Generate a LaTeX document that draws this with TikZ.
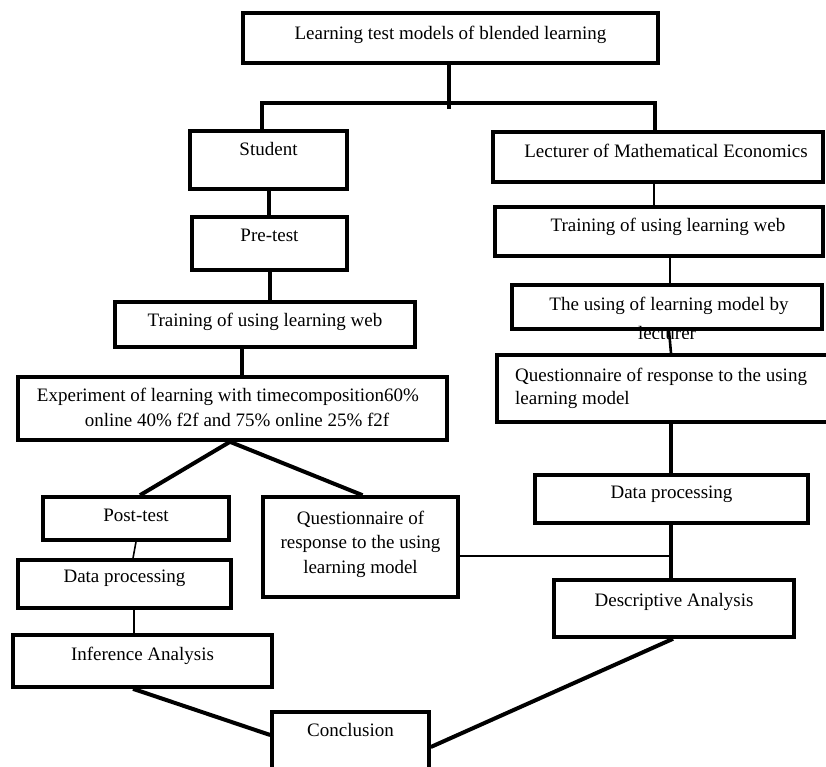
\documentclass[tikz,border=0pt]{standalone}
\usepackage{fontspec}
\setmainfont{Liberation Serif}
\begin{document}
\begin{tikzpicture}[x=1pt,y=-1pt,
  box/.style={draw=black, line width=3.6pt, rectangle, inner sep=0pt, fill=white},
  txt/.style={inner sep=0pt, font=\fontsize{19}{24.5}\selectfont, text height=12pt, text depth=3pt},
  thick4/.style={line width=4pt},
  thin2/.style={line width=1.6pt},
  mid3/.style={line width=2.6pt}]
\clip (0,0) rectangle (826,767);
\fill[white] (0,0) rectangle (826,767);

% ---- boxes ----
\node[box, minimum width=415pt, minimum height=50pt] (top) at (450.5,38) {};
\node[box, minimum width=157pt, minimum height=58pt] (stu) at (268.5,160) {};
\node[box, minimum width=155pt, minimum height=53pt] (pre) at (269.5,243.5) {};
\node[box, minimum width=300pt, minimum height=45pt] (trl) at (265,324.5) {};
\node[box, minimum width=429pt, minimum height=63pt] (exp) at (232.5,408.5) {};
\node[box, minimum width=186pt, minimum height=43pt] (post) at (136,518.5) {};
\node[box, minimum width=213pt, minimum height=48pt] (dpl) at (124.5,584) {};
\node[box, minimum width=259pt, minimum height=52pt] (inf) at (142.5,661) {};
\node[box, minimum width=157pt, minimum height=78pt] (con) at (350.5,751) {};
\node[box, minimum width=195pt, minimum height=100pt] (ql) at (360.5,547) {};
\node[box, minimum width=330pt, minimum height=50pt] (lec) at (658,157) {};
\node[box, minimum width=328pt, minimum height=49pt] (trr) at (659,231.5) {};
\node[box, minimum width=310pt, minimum height=44pt] (use) at (667,307) {};
\node[box, minimum width=353pt, minimum height=67pt] (qr) at (673.5,388.5) {};
\node[box, minimum width=273pt, minimum height=48pt] (dpr) at (671.5,499) {};
\node[box, minimum width=240pt, minimum height=57pt] (des) at (674,608.5) {};

% ---- texts ----
\node[txt] (ttop) at (450.5,35) {Learning test models of blended learning};
\node[txt] (tstu) at (268.5,151) {Student};
\node[txt] (tpre) at (269.5,237) {Pre-test};
\node[txt] (ttrl) at (265,322) {Training of using learning web};
\node[txt] (texp1) at (228,397) {Experiment of learning with timecomposition60\%};
\node[txt] (texp2) at (237,422) {online 40\% f2f and 75\% online 25\% f2f};
\node[txt] (tpost) at (136,517) {Post-test};
\node[txt] (tdpl) at (124.5,578) {Data processing};
\node[txt] (tinf) at (142.5,656) {Inference Analysis};
\node[txt] (tcon) at (350.5,732) {Conclusion};
\node[txt] (tql1) at (360.5,520) {Questionnaire of};
\node[txt] (tql2) at (360.5,544) {response to the using};
\node[txt] (tql3) at (360.5,569) {learning model};
\node[txt] (tlec) at (666,153) {Lecturer of Mathematical Economics};
\node[txt] (ttrr) at (668,227) {Training of using learning web};
\node[txt] (tuse1) at (669,306) {The using of learning model by};
\begin{scope}
  \clip (500,320) rectangle (830,338.5);
  \node[txt] (tuse2) at (667,335) {lecturer};
\end{scope}
\node[txt, anchor=west] (tqr1) at (515,377) {Questionnaire of response to the using};
\node[txt, anchor=west] (tqr2) at (515,400) {learning model};
\node[txt] (tdpr) at (671.5,494) {Data processing};
\node[txt] (tdes) at (674,602) {Descriptive Analysis};

% ---- connectors ----
\coordinate (jl) at (262,103);
\coordinate (jr) at (655,103);
\draw[thick4] ([xshift=-1.5pt]top.south) -- ++(0,44);
\draw[thick4] (stu.north -| jl) -- (jl) -- (jr) -- (lec.north -| jr);
\draw[thick4] (stu.south) -- (stu.south |- pre.north);
\draw[thick4] (pre.south) -- (pre.south |- trl.north);
\draw[thick4] ([xshift=-23pt]trl.south) -- ([xshift=-23pt]trl.south |- exp.north);
\draw[thick4] ([xshift=-2.5pt]exp.south) -- ([xshift=4pt]post.north);
\draw[thick4] ([xshift=-2.5pt]exp.south) -- ([xshift=2pt]ql.north);
\draw[thin2] (post.south) -- ([xshift=8.5pt]dpl.north);
\draw[thin2] ([xshift=9.5pt]dpl.south) -- ([xshift=9.5pt]dpl.south |- inf.north);
\draw[thick4] ([xshift=-9.5pt]inf.south) -- ([yshift=16pt]con.west);
\draw[thick4] ([yshift=4pt]con.east) -- ([xshift=-1pt]des.south);
\draw[thin2] ([xshift=-4pt]lec.south) -- ([xshift=-4pt]lec.south |- trr.north);
\draw[thin2] ([xshift=11pt]trr.south) -- ([xshift=11pt]trr.south |- use.north);
\draw[mid3] ([xshift=2pt]use.south) -- ([xshift=-2.5pt]qr.north);
\draw[thick4] ([xshift=-2.5pt]qr.south) -- ([xshift=-2.5pt]qr.south |- dpr.north);
\draw[thick4] ([xshift=-0.5pt]dpr.south) -- ([xshift=-0.5pt]dpr.south |- des.north);
\draw[mid3] ([yshift=-9pt]ql.east) -- ([yshift=-9pt]ql.east -| dpr.south);
\end{tikzpicture}
\end{document}
